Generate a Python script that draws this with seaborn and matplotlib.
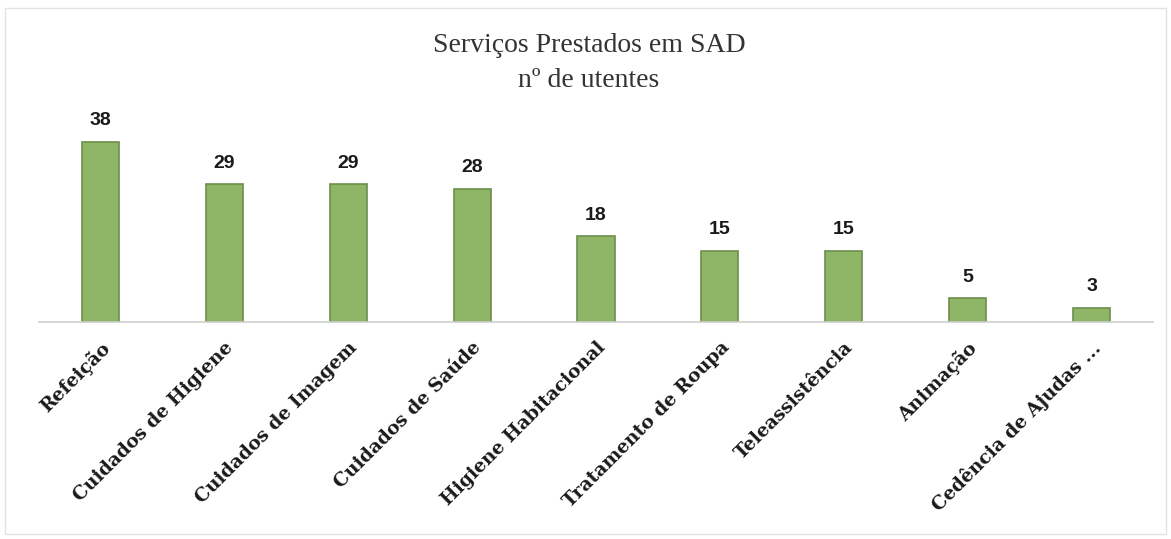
import matplotlib
matplotlib.use("Agg")
import matplotlib.pyplot as plt
import seaborn as sns
import pandas as pd

# --- data ---
servicos = ["Refeição", "Cuidados de Higiene", "Cuidados de Imagem",
            "Cuidados de Saúde", "Higiene Habitacional", "Tratamento de Roupa",
            "Teleassistência", "Animação", "Cedência de Ajudas ..."]
utentes = [38, 29, 29, 28, 18, 15, 15, 5, 3]

df = pd.DataFrame({"servico": servicos, "utentes": utentes})

sns.set_theme(style="white")
plt.rcParams["font.family"] = ["Liberation Serif", "DejaVu Serif"]

fig = plt.figure(figsize=(11.71, 5.39), dpi=100)
ax = fig.add_axes([0.033, 0.403, 0.952, 0.352])

sns.barplot(data=df, x="servico", y="utentes", color="#8fb566",
            width=0.3, edgecolor="#6b8f4a", linewidth=1.2, saturation=1, ax=ax)

ax.set_ylim(0, 40)
ax.set_yticks([])
ax.set_xlabel("")
ax.set_ylabel("")
for s in ["top", "right", "left"]:
    ax.spines[s].set_visible(False)
ax.spines["bottom"].set_color("#d0d0d0")
ax.spines["bottom"].set_linewidth(1.2)

# value labels above bars
for bar, v in zip(ax.patches, utentes):
    ax.annotate(str(v), (bar.get_x() + bar.get_width() / 2, bar.get_height()),
                xytext=(0, 9), textcoords="offset points", ha="center", va="bottom",
                fontsize=14, fontweight="bold", family=["Liberation Sans", "DejaVu Sans"],
                color="#1a1a1a")

ax.tick_params(axis="x", length=0, pad=12)
plt.setp(ax.get_xticklabels(), rotation=45, ha="right", rotation_mode="anchor",
         fontsize=13.5, fontweight="bold", family=["DejaVu Serif"], color="#1a1a1a")

fig.text(0.503, 0.915, "Serviços Prestados em SAD", ha="center", va="center",
         fontsize=20, color="#333333")
fig.text(0.503, 0.850, "nº de utentes", ha="center", va="center",
         fontsize=20, color="#333333")

# faint chart border like the scanned frame
fig.patches.append(plt.Rectangle((0.004, 0.01), 0.992, 0.975, transform=fig.transFigure,
                                 fill=False, edgecolor="#e4e4e4", linewidth=1))

fig.savefig("out.png", dpi=100)
